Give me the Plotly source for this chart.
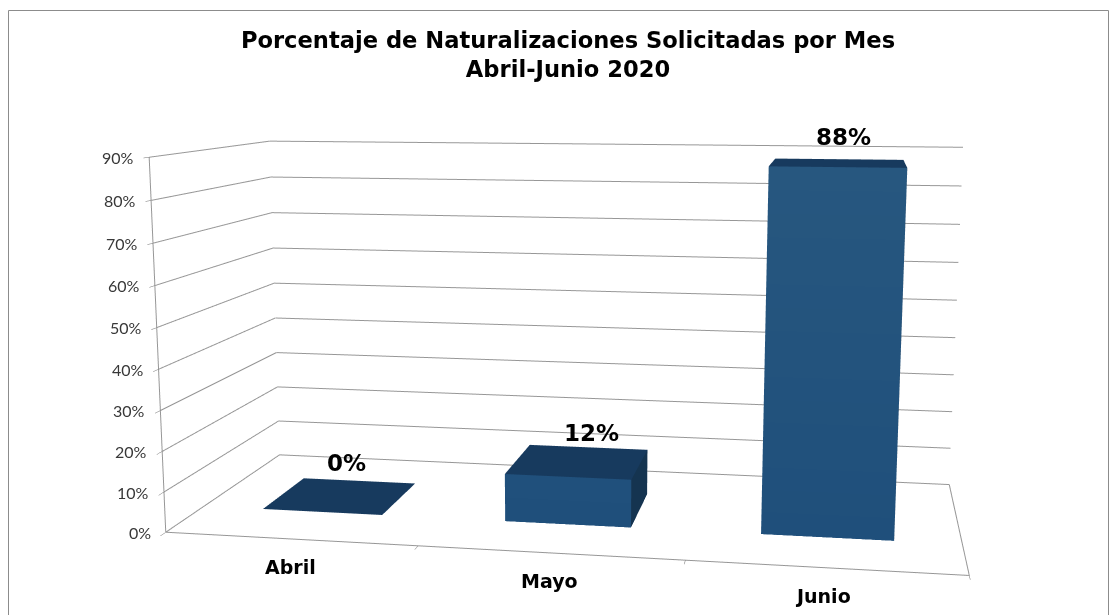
import plotly.graph_objects as go

# --- data ---
months = ["Abril", "Mayo", "Junio"]
percent = [0, 12, 88]
percent_labels = ["0%", "12%", "88%"]
pct_ticks = [0, 10, 20, 30, 40, 50, 60, 70, 80, 90]
pct_tick_labels = ["0%", "10%", "20%", "30%", "40%", "50%", "60%", "70%", "80%", "90%"]
title_lines = ["Porcentaje de Naturalizaciones Solicitadas por Mes", "Abril-Junio 2020"]

# --- geometry of the 3D column style ---
BAR_W = 0.4987
Y0, Y1 = 0.2998, 0.6934
FIG_W, FIG_H = 1140, 1320
SHIFT_TOP = 326
GRID = "#979797"
FRONT_LOW, FRONT_HIGH = (31, 79, 123), (39, 87, 127)
TOP_C = (23, 58, 94)
SIDE_C = (21, 52, 80)


def rgb(c):
    return "rgb(%d,%d,%d)" % c


def front_color(z):
    t = z / 88
    return rgb(tuple(round(a + (b - a) * t) for a, b in zip(FRONT_LOW, FRONT_HIGH)))


X, Y, Z, I, J, K, VC = [], [], [], [], [], [], []


def quad(corners, colors):
    n = len(X)
    for (a, b, c), col in zip(corners, colors):
        X.append(a); Y.append(b); Z.append(c); VC.append(col)
    I.extend([n, n]); J.extend([n + 1, n + 2]); K.extend([n + 2, n + 3])


for i, v in enumerate(percent):
    x0, x1 = i + 0.5 - BAR_W / 2, i + 0.5 + BAR_W / 2
    quad([(x0, Y0, v), (x1, Y0, v), (x1, Y1, v), (x0, Y1, v)], [rgb(TOP_C)] * 4)
    if v > 0:
        quad([(x0, Y0, 0), (x1, Y0, 0), (x1, Y0, v), (x0, Y0, v)],
             [front_color(0), front_color(0), front_color(v), front_color(v)])
        quad([(x1, Y0, 0), (x1, Y1, 0), (x1, Y1, v), (x1, Y0, v)], [rgb(SIDE_C)] * 4)

fig = go.Figure(go.Mesh3d(
    x=X, y=Y, z=Z, i=I, j=J, k=K, vertexcolor=VC, flatshading=True,
    lighting=dict(ambient=1, diffuse=0, specular=0, fresnel=0, roughness=1),
    hoverinfo="skip", showscale=False,
))

# wall gridlines and frame, drawn as 3D lines so they can carry a real width
gx, gy, gz = [], [], []
for z in pct_ticks:
    gx += [0, 0, 3, None]; gy += [0, 1, 1, None]; gz += [z, z, z, None]
gx += [0, 0, None, 0, 3, 3]; gy += [0, 0, None, 0, 0, 1]; gz += [0, 90, None, 0, 0, 0]
fig.add_trace(go.Scatter3d(x=gx, y=gy, z=gz, mode="lines", line=dict(color=GRID, width=2),
                           hoverinfo="skip", showlegend=False))

annos = []
for t, z in zip(pct_tick_labels, pct_ticks):
    annos.append(dict(x=0, y=0, z=z, text=t, showarrow=False, xanchor="right", yanchor="middle",
                      xshift=-13, font=dict(family="Lato", size=16, color="#383838")))
cat_shift = [0, 0, -2]
for i, m in enumerate(months):
    annos.append(dict(x=i + 0.5, y=0, z=0, text="<b>%s</b>" % m, showarrow=False, xanchor="center",
                      yanchor="middle", xshift=cat_shift[i], yshift=-28,
                      font=dict(family="DejaVu Sans", size=19, color="#000000")))
label_shift = [(-13, 18), (3, 14), (5, 22)]
for i, (t, v) in enumerate(zip(percent_labels, percent)):
    annos.append(dict(x=i + 0.5, y=Y1, z=v, text="<b>%s</b>" % t, showarrow=False, xanchor="center",
                      yanchor="middle", xshift=label_shift[i][0], yshift=label_shift[i][1],
                      font=dict(family="DejaVu Sans", size=23, color="#000000")))

common = dict(showbackground=False, showspikes=False, title=dict(text=""), showticklabels=False,
              zeroline=False, showline=False, showgrid=False)

fig.update_layout(
    width=FIG_W, height=FIG_H, autosize=False,
    margin=dict(l=0, r=0, t=0, b=0),
    paper_bgcolor="white", showlegend=False,
    title=dict(text="<b>%s</b>" % "<br>".join(title_lines), x=568 / FIG_W, xanchor="center",
               y=1 - (47.5 + SHIFT_TOP) / FIG_H, yanchor="middle",
               font=dict(family="DejaVu Sans", size=22.6, color="#000000")),
    shapes=[dict(type="rect", xref="paper", yref="paper",
                 x0=8.5 / FIG_W, x1=1108.5 / FIG_W, y0=0, y1=1 - (10.5 + SHIFT_TOP) / FIG_H,
                 line=dict(color="#8c8c8c", width=1))],
    scene=dict(
        domain=dict(x=[0, 1], y=[0, 1]),
        aspectmode="manual",
        aspectratio=dict(x=1, y=0.4144, z=0.4775),
        camera=dict(eye=dict(x=0.352, y=-2.0534, z=0.3532),
                    center=dict(x=-0.0116, y=0, z=-0.0018),
                    up=dict(x=0.0005, y=0, z=1),
                    projection=dict(type="perspective")),
        xaxis=dict(range=[0, 3], tickvals=[0, 1, 2, 3], ticks="outside", ticklen=7, tickcolor="#707070", **common),
        yaxis=dict(range=[0, 1], tickvals=[], ticks="", **common),
        zaxis=dict(range=[0, 90], tickvals=pct_ticks, ticks="outside", ticklen=5, tickcolor="#707070", **common),
        annotations=annos,
    ),
)

post = """
var gd = document.getElementById('{plot_id}');
document.documentElement.style.overflow = 'hidden';
document.documentElement.style.height = '100%';
document.body.style.overflow = 'hidden';
document.body.style.height = '100%';
document.body.style.margin = '0';
gd.style.position = 'absolute';
gd.style.left = '0px';
gd.style.top = '-326px';
""".replace("326", str(SHIFT_TOP))

fig.write_html("out.html", post_script=post, config=dict(displayModeBar=False))
